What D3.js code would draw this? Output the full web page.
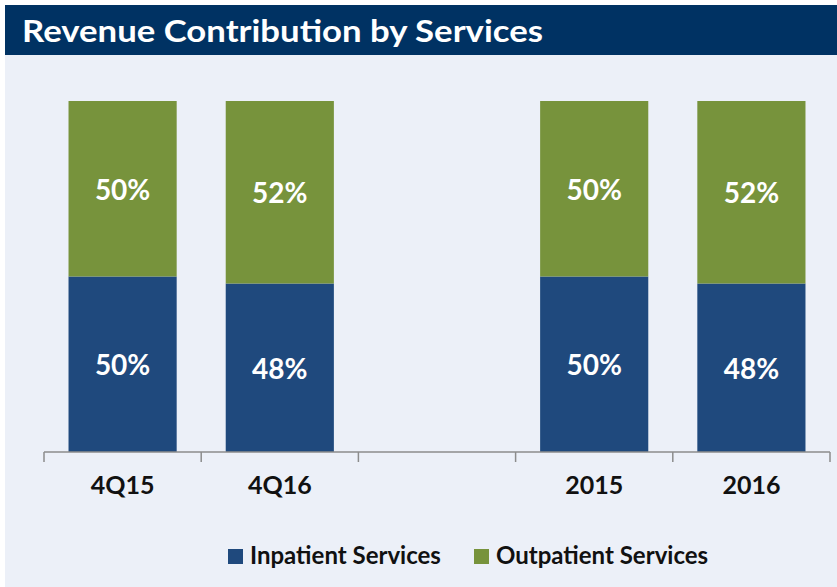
<!DOCTYPE html>
<html>
<head>
<meta charset="utf-8">
<script src="https://cdn.jsdelivr.net/npm/d3@7"></script>
<style>
  body { margin: 0; background: #fff; }
  svg { display: block; font-family: "Lato", "Open Sans", sans-serif; }
</style>
</head>
<body>
<div id="chart"></div>
<script>
// chart data
const categories = ["4Q15", "4Q16", "", "2015", "2016"];
const inpatient = [50, 48, null, 50, 48];
const outpatient = [50, 52, null, 50, 52];
const seriesNames = ["Inpatient Services", "Outpatient Services"];
const seriesColors = ["#1F497D", "#77933C"];
const title = "Revenue Contribution by Services";

const width = 837, height = 587;

const svg = d3.select("#chart").append("svg")
    .attr("width", width)
    .attr("height", height);

// panel + title bar
svg.append("rect")
    .attr("x", 5).attr("y", 5)
    .attr("width", width - 5).attr("height", height - 5)
    .attr("fill", "#ECF0F8");
svg.append("rect")
    .attr("x", 5).attr("y", 5)
    .attr("width", width - 5).attr("height", 50)
    .attr("fill", "#003263");
svg.append("text")
    .attr("x", 22).attr("y", 42)
    .attr("fill", "#fff")
    .attr("font-size", 30)
    .attr("font-weight", "bold")
    .attr("textLength", 521)
    .attr("lengthAdjust", "spacingAndGlyphs")
    .text(title);

// scales
const x = d3.scaleBand()
    .domain(categories.map((c, i) => i))
    .range([44, 830])
    .paddingInner(0.312)
    .paddingOuter(0.156);

const y = d3.scaleLinear()
    .domain([0, 100])
    .range([452, 101]);

const rows = categories.map((c, i) => ({
    key: i, label: c, inpatient: inpatient[i], outpatient: outpatient[i]
})).filter(d => d.inpatient != null);

const stack = d3.stack().keys(["inpatient", "outpatient"]);
const layers = stack(rows);

const g = svg.append("g");

layers.forEach((layer, li) => {
    g.selectAll(".bar-" + li)
        .data(layer)
        .join("rect")
        .attr("class", "bar-" + li)
        .attr("x", d => x(d.data.key))
        .attr("width", x.bandwidth())
        .attr("y", d => y(d[1]))
        .attr("height", d => y(d[0]) - y(d[1]))
        .attr("fill", seriesColors[li]);

    g.selectAll(".lbl-" + li)
        .data(layer)
        .join("text")
        .attr("class", "lbl-" + li)
        .attr("x", d => x(d.data.key) + x.bandwidth() / 2)
        .attr("y", d => (y(d[0]) + y(d[1])) / 2 + 1)
        .attr("dy", "0.35em")
        .attr("text-anchor", "middle")
        .attr("fill", "#fff")
        .attr("font-size", 28)
        .attr("font-weight", "bold")
        .text(d => (d[1] - d[0]) + "%");
});

// axis: baseline with ticks at band boundaries
const axisG = svg.append("g");
axisG.append("line")
    .attr("x1", x.range()[0]).attr("x2", x.range()[1])
    .attr("y1", y(0)).attr("y2", y(0))
    .attr("stroke", "#8C8C8C").attr("stroke-width", 1.5);
axisG.selectAll(".tick-mark")
    .data(d3.range(categories.length + 1))
    .join("line")
    .attr("class", "tick-mark")
    .attr("x1", i => x.range()[0] + i * x.step())
    .attr("x2", i => x.range()[0] + i * x.step())
    .attr("y1", y(0)).attr("y2", y(0) + 10)
    .attr("stroke", "#8C8C8C").attr("stroke-width", 1.5);

const labelAxis = d3.axisBottom(x)
    .tickSize(0)
    .tickPadding(0)
    .tickFormat(i => categories[i]);
const la = svg.append("g")
    .attr("transform", `translate(0, ${y(0) + 24})`)
    .call(labelAxis);
la.select(".domain").remove();
la.selectAll("text")
    .attr("font-family", "Lato, 'Open Sans', sans-serif")
    .attr("font-size", 25)
    .attr("font-weight", "bold")
    .attr("fill", "#111");

// legend
const legendX = [228, 474];
const legend = svg.append("g");
seriesNames.forEach((name, i) => {
    legend.append("rect")
        .attr("x", legendX[i]).attr("y", 549)
        .attr("width", 15).attr("height", 15)
        .attr("fill", seriesColors[i]);
    legend.append("text")
        .attr("x", legendX[i] + 22).attr("y", 564)
        .attr("font-size", 24)
        .attr("font-weight", "bold")
        .attr("fill", "#111")
        .text(name);
});
</script>
</body>
</html>
